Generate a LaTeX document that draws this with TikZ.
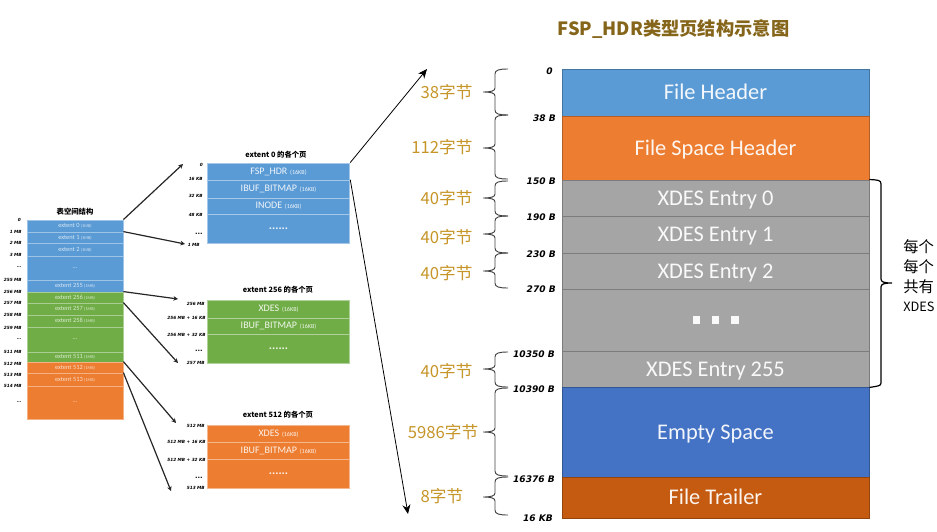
\documentclass[tikz,border=0pt]{standalone}
\usepackage{xcolor}
\usepackage{fontspec}
\setmainfont{Carlito}
\newfontfamily\cjk{Noto Sans CJK SC}
\newfontfamily\tickfont{DejaVu Sans}
\usetikzlibrary{arrows.meta}
\definecolor{fspblue}{HTML}{5B9BD5}
\definecolor{fsporange}{HTML}{ED7D31}
\definecolor{fspgray}{HTML}{A5A5A5}
\definecolor{fspgreen}{HTML}{70AD47}
\definecolor{fspdeep}{HTML}{4472C4}
\definecolor{fsprust}{HTML}{C55A11}
\definecolor{fspgold}{HTML}{C69528}
\definecolor{fsptitle}{HTML}{85651A}
\tikzset{
  bigrow/.style={draw=#1!75!black,fill=#1,line width=0.7pt,minimum width=230.25pt,inner sep=0pt,text=white!93!#1,text height=12.2pt,text depth=1pt,font=\fontsize{16.8}{18}\selectfont},
  midrow/.style={draw=#1!55!white,fill=#1,line width=0.6pt,minimum width=107pt,inner sep=0pt,text=white!90!#1,font=\fontsize{7.5}{10}\selectfont},
  tsrow/.style={draw=#1!60!white,fill=#1,line width=0.6pt,minimum width=72pt,inner sep=0pt,text=white!75!#1,font=\fontsize{4.8}{6}\selectfont},
  bytelabel/.style={text=fspgold,font=\cjk\fontsize{12.5}{14}\selectfont,inner sep=0pt},
  offlabel/.style={anchor=east,inner sep=0pt,font=\tickfont\bfseries\itshape\fontsize{6.8}{8}\selectfont},
  ticklabel/.style={anchor=east,inner sep=0pt,font=\tickfont\bfseries\itshape\fontsize{3.2}{4}\selectfont},
  headlabel/.style={inner sep=0pt,font=\cjk\bfseries\fontsize{5.5}{7}\selectfont},
  bigarrow/.style={-{Stealth[length=7pt,width=6pt]},line width=0.6pt},
  tinyarrow/.style={-{Stealth[length=3.5pt,width=3.5pt]},line width=0.9pt,draw=black!85},
}
\newcommand{\smallkb}[1]{{\fontsize{4.6}{6}\selectfont\ \ (#1)}}
\newcommand{\bytebrace}[3]{\draw [black!75,line width=0.7pt] (508,#1) .. controls (499,#1) and (495,#1+1) .. (495,#1+5) -- (495,#2-4) .. controls (495,#2-1) and (491,#2) .. (483,#2) .. controls (491,#2) and (495,#2+1) .. (495,#2+4) -- (495,#3-5) .. controls (495,#3-1) and (499,#3) .. (508,#3) ;}
\begin{document}
\begin{tikzpicture}[x=0.75pt,y=0.75pt,yscale=-1,xscale=1]
\useasboundingbox (0,0) rectangle (937,531);
% Title
\node [text=fsptitle,inner sep=0pt,font=\cjk\bfseries\fontsize{13.7}{15}\selectfont] (fsptitle) at (673.5,29.5) {FSP\_HDR类型页结构示意图};
% FSP_HDR page
\node [bigrow=fspblue,minimum height=47*0.75pt] (fileheader) at (715.5,92.5) {File Header};
\node [bigrow=fsporange,minimum height=64*0.75pt] (spaceheader) at (715.5,148) {File Space Header};
\node [bigrow=fspgray,minimum height=36*0.75pt] (entry0) at (715.5,198) {XDES Entry 0};
\node [bigrow=fspgray,minimum height=37*0.75pt] (entry1) at (715.5,234.5) {XDES Entry 1};
\node [bigrow=fspgray,minimum height=36*0.75pt] (entry2) at (715.5,271) {XDES Entry 2};
\node [bigrow=fspgray,minimum height=62*0.75pt,text height=5.5pt,text depth=0pt] (entrydots) at (715.5,320) {\rule{5.5pt}{5.5pt}\hspace{9pt}\rule{5.5pt}{5.5pt}\hspace{9pt}\rule{5.5pt}{5.5pt}};
\node [bigrow=fspgray,minimum height=36*0.75pt] (entry255) at (715.5,369) {XDES Entry 255};
\node [bigrow=fspdeep,minimum height=90*0.75pt] (emptyspace) at (715.5,432) {Empty Space};
\node [bigrow=fsprust,minimum height=41*0.75pt] (filetrailer) at (715.5,497.5) {File Trailer};
% Offsets
\node [offlabel] (off0) at (553,71) {0};
\node [offlabel] (off38) at (556,118) {38 B};
\node [offlabel] (off150) at (556,181) {150 B};
\node [offlabel] (off190) at (556,217) {190 B};
\node [offlabel] (off230) at (556,254) {230 B};
\node [offlabel] (off270) at (556,289) {270 B};
\node [offlabel] (off10350) at (555,354) {10350 B};
\node [offlabel] (off10390) at (555,389) {10390 B};
\node [offlabel] (off16376) at (555,479) {16376 B};
\node [offlabel] (off16k) at (553,518) {16 KB};
% Braces
\bytebrace{69}{92}{115}
\bytebrace{115}{148}{179}
\bytebrace{181}{198}{216}
\bytebrace{216}{234}{253}
\bytebrace{253}{271}{288}
\bytebrace{352}{369}{387}
\bytebrace{388}{432}{476}
\bytebrace{477}{497}{515}
% Byte sizes
\node [bytelabel] (size38) at (446.5,92) {38字节};
\node [bytelabel] (size112) at (442,147) {112字节};
\node [bytelabel] (size40a) at (446.5,198) {40字节};
\node [bytelabel] (size40b) at (446.5,237) {40字节};
\node [bytelabel] (size40c) at (446.5,273) {40字节};
\node [bytelabel] (size40d) at (446.5,371) {40字节};
\node [bytelabel] (size5986) at (443,432) {5986字节};
\node [bytelabel] (size8) at (442,496) {8字节};
% Right brace
\draw [black,line width=0.9pt] (entry0.north east) .. controls (878,180) and (881,180) .. (881,184) -- (881,279) .. controls (881,282) and (884,283) .. (892,283) .. controls (884,283) and (881,284) .. (881,287) -- (881,383) .. controls (881,386) and (878,386) .. (entry255.south east) ;
\node [anchor=west,inner sep=0pt,font=\cjk\fontsize{11.5}{14}\selectfont] (note1) at (903,247) {每个};
\node [anchor=west,inner sep=0pt,font=\cjk\fontsize{11.5}{14}\selectfont] (note2) at (903,267) {每个};
\node [anchor=west,inner sep=0pt,font=\cjk\fontsize{11.5}{14}\selectfont] (note3) at (903,287) {共有};
\node [anchor=west,inner sep=0pt,font=\cjk\fontsize{9.6}{14}\selectfont] (note4) at (903,307) {XDES};
% Table space
\node [headlabel] (tshead) at (75,212) {表空间结构};
\node [tsrow=fspblue,minimum height=12*0.75pt] (ext0) at (75,226) {extent 0 {\fontsize{3.2}{4}\selectfont (1MB)}};
\node [tsrow=fspblue,minimum height=11*0.75pt] (ext1) at (75,237.5) {extent 1 {\fontsize{3.2}{4}\selectfont (1MB)}};
\node [tsrow=fspblue,minimum height=13*0.75pt] (ext2) at (75,249.5) {extent 2 {\fontsize{3.2}{4}\selectfont (1MB)}};
\node [tsrow=fspblue,minimum height=24*0.75pt] (extdotsa) at (75,268) {...};
\node [tsrow=fspblue,minimum height=12*0.75pt] (ext255) at (75,286) {extent 255 {\fontsize{3.2}{4}\selectfont (1MB)}};
\node [tsrow=fspgreen,minimum height=11*0.75pt] (ext256) at (75,297.5) {extent 256 {\fontsize{3.2}{4}\selectfont (1MB)}};
\node [tsrow=fspgreen,minimum height=12*0.75pt] (ext257) at (75,309) {extent 257 {\fontsize{3.2}{4}\selectfont (1MB)}};
\node [tsrow=fspgreen,minimum height=12*0.75pt] (ext258) at (75,321) {extent 258 {\fontsize{3.2}{4}\selectfont (1MB)}};
\node [tsrow=fspgreen,minimum height=25*0.75pt] (extdotsb) at (75,339.5) {...};
\node [tsrow=fspgreen,minimum height=10*0.75pt] (ext511) at (75,357) {extent 511 {\fontsize{3.2}{4}\selectfont (1MB)}};
\node [tsrow=fsporange,minimum height=11*0.75pt] (ext512) at (75,367.5) {extent 512 {\fontsize{3.2}{4}\selectfont (1MB)}};
\node [tsrow=fsporange,minimum height=13*0.75pt] (ext513) at (75,379.5) {extent 513 {\fontsize{3.2}{4}\selectfont (1MB)}};
\node [tsrow=fsporange,minimum height=33*0.75pt] (extdotsc) at (75,402.5) {...};
% Table space offsets
\node [ticklabel] (ts0) at (21,220) {0};
\node [ticklabel] (ts1) at (22,231.5) {1 MB};
\node [ticklabel] (ts2) at (22,243) {2 MB};
\node [ticklabel] (ts3) at (22,255) {3 MB};
\node [ticklabel] (tsdotsa) at (22,267) {...};
\node [ticklabel] (ts255) at (22,279.5) {255 MB};
\node [ticklabel] (ts256) at (22,292) {256 MB};
\node [ticklabel] (ts257) at (22,303) {257 MB};
\node [ticklabel] (ts258) at (22,315) {258 MB};
\node [ticklabel] (ts259) at (22,327.5) {259 MB};
\node [ticklabel] (tsdotsb) at (22,339) {...};
\node [ticklabel] (ts511) at (22,352) {511 MB};
\node [ticklabel] (ts512) at (22,363.5) {512 MB};
\node [ticklabel] (ts513) at (22,374.5) {513 MB};
\node [ticklabel] (ts514) at (22,386) {514 MB};
\node [ticklabel] (tsdotsc) at (22,402) {...};
% extent 0
\node [headlabel] (headzero) at (276,155) {extent 0 的各个页};
\node [midrow=fspblue,minimum height=17*0.75pt] (zerofsp) at (278.5,171.5) {FSP\_HDR\smallkb{16KB}};
\node [midrow=fspblue,minimum height=18*0.75pt] (zeroibuf) at (278.5,189) {IBUF\_BITMAP\smallkb{16KB}};
\node [midrow=fspblue,minimum height=16*0.75pt] (zeroinode) at (278.5,206) {INODE\smallkb{16KB}};
\node [midrow=fspblue,minimum height=29*0.75pt,font=\bfseries\fontsize{9}{10}\selectfont] (zerodots) at (278.5,228.5) {......};
\node [ticklabel] (zero0) at (203,165) {0};
\node [ticklabel] (zero16) at (203,179) {16 KB};
\node [ticklabel] (zero32) at (203,196) {32 KB};
\node [ticklabel] (zero48) at (203,215) {48 KB};
\node [ticklabel,font=\tickfont\bfseries\fontsize{5}{6}\selectfont] (zerodotsl) at (203,234) {...};
\node [ticklabel] (zero1m) at (200,245) {1 MB};
% extent 256
\node [headlabel] (headmid) at (278,290) {extent 256 的各个页};
\node [midrow=fspgreen,minimum height=18*0.75pt] (midxdes) at (278.5,309) {XDES\smallkb{16KB}};
\node [midrow=fspgreen,minimum height=16*0.75pt] (midibuf) at (278.5,326) {IBUF\_BITMAP\smallkb{16KB}};
\node [midrow=fspgreen,minimum height=29*0.75pt,font=\bfseries\fontsize{9}{10}\selectfont] (middots) at (278.5,348.5) {......};
\node [ticklabel] (mid256) at (205,304) {256 MB};
\node [ticklabel] (mid16) at (206,318) {256 MB + 16 KB};
\node [ticklabel] (mid32) at (206,335) {256 MB + 32 KB};
\node [ticklabel,font=\tickfont\bfseries\fontsize{5}{6}\selectfont] (middotsl) at (203,351) {...};
\node [ticklabel] (mid257) at (205,362.5) {257 MB};
% extent 512
\node [headlabel] (headlast) at (278,415) {extent 512 的各个页};
\node [midrow=fsporange,minimum height=17*0.75pt] (lastxdes) at (278.5,433.5) {XDES\smallkb{16KB}};
\node [midrow=fsporange,minimum height=17*0.75pt] (lastibuf) at (278.5,450.5) {IBUF\_BITMAP\smallkb{16KB}};
\node [midrow=fsporange,minimum height=29*0.75pt,font=\bfseries\fontsize{9}{10}\selectfont] (lastdots) at (278.5,473.5) {......};
\node [ticklabel] (last512) at (205,426) {512 MB};
\node [ticklabel] (last16) at (206,442) {512 MB + 16 KB};
\node [ticklabel] (last32) at (206,460) {512 MB + 32 KB};
\node [ticklabel,font=\tickfont\bfseries\fontsize{5}{6}\selectfont] (lastdotsl) at (203,478) {...};
\node [ticklabel] (last513) at (205,488) {513 MB};
% Arrow ends
\coordinate (endzerotop) at (183,164);
\coordinate (endzerobot) at (185,244);
\coordinate (endmidtop) at (178,299);
\coordinate (endmidbot) at (178,363);
\coordinate (endlasttop) at (176,423);
\coordinate (endlastbot) at (171,491);
\coordinate (endpagetop) at (427,69);
\coordinate (endpagebot) at (408,514);
% Arrows
\draw [tinyarrow] (ext0.north east) -- (endzerotop);
\draw [tinyarrow] (ext1.north east) -- (endzerobot);
\draw [tinyarrow] (ext256.north east) -- (endmidtop);
\draw [tinyarrow] (ext257.north east) -- (endmidbot);
\draw [tinyarrow] (ext512.north east) -- (endlasttop);
\draw [tinyarrow] (ext513.north east) -- (endlastbot);
\draw [bigarrow] (zerofsp.north east) -- (endpagetop);
\draw [bigarrow] (zeroibuf.north east) -- (endpagebot);
\end{tikzpicture}
\end{document}
